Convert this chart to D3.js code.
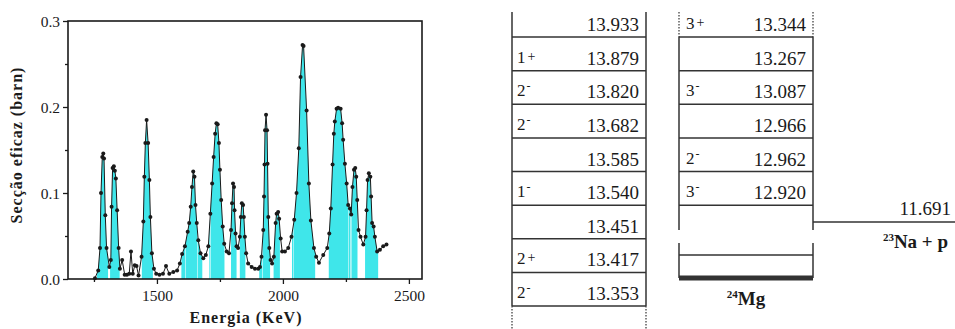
<!DOCTYPE html>
<html>
<head>
<meta charset="utf-8">
<script src="https://cdn.jsdelivr.net/npm/d3@7"></script>
<style>
  body { margin: 0; background: #fff; }
  svg text { font-family: "Liberation Serif", "DejaVu Serif", "Times New Roman", Times, serif; }
</style>
</head>
<body>
<svg id="chart" width="955" height="329"></svg>
<script>
// excitation function
const energy = [1254, 1267, 1274, 1278, 1283, 1287, 1290, 1295, 1300, 1311, 1317, 1320, 1324, 1329, 1333, 1337, 1342, 1348, 1353,
  1362, 1372, 1381, 1390, 1397, 1404, 1412, 1419, 1427, 1439, 1446, 1450, 1454, 1459, 1465, 1470, 1474, 1480, 1488, 1497,
  1510, 1524, 1536, 1549, 1565, 1580, 1591, 1600, 1611, 1622, 1628, 1634, 1639, 1644, 1649, 1653, 1658, 1664, 1673, 1684,
  1694, 1704, 1712, 1719, 1725, 1731, 1736, 1741, 1746, 1750, 1755, 1761, 1767, 1777, 1786, 1794, 1798, 1802, 1806, 1808,
  1812, 1816, 1822, 1829, 1833, 1837, 1842, 1845, 1849, 1854, 1862, 1876, 1889, 1902, 1909, 1915, 1922, 1925, 1927, 1929,
  1933, 1937, 1939, 1942, 1946, 1951, 1957, 1964, 1971, 1975, 1981, 1985, 1991, 1997, 2008, 2021, 2034, 2045, 2054, 2063,
  2070, 2078, 2082, 2094, 2103, 2111, 2123, 2132, 2143, 2160, 2176, 2184, 2190, 2197, 2202, 2206, 2213, 2219, 2229, 2235,
  2239, 2246, 2253, 2259, 2266, 2271, 2276, 2282, 2287, 2291, 2295, 2300, 2308, 2319, 2328, 2332, 2336, 2341, 2347, 2350,
  2354, 2360, 2365, 2374, 2385, 2398, 2411];
const sigma = [0.001, 0.010, 0.036, 0.100, 0.142, 0.146, 0.140, 0.074, 0.036, 0.014, 0.022, 0.084, 0.129, 0.131, 0.126, 0.117, 0.080, 0.036, 0.012,
  0.022, 0.005, 0.005, 0.006, 0.032, 0.006, 0.016, 0.015, 0.004, 0.026, 0.067, 0.119, 0.158, 0.185, 0.158, 0.115, 0.072, 0.030, 0.012, 0.006,
  0.005, 0.006, 0.015, 0.006, 0.008, 0.010, 0.018, 0.029, 0.038, 0.055, 0.065, 0.084, 0.107, 0.125, 0.119, 0.086, 0.065, 0.045, 0.030, 0.024,
  0.028, 0.038, 0.076, 0.111, 0.142, 0.169, 0.181, 0.180, 0.158, 0.127, 0.092, 0.061, 0.041, 0.032, 0.030, 0.057, 0.088, 0.111, 0.107, 0.080,
  0.053, 0.038, 0.036, 0.049, 0.072, 0.088, 0.086, 0.072, 0.049, 0.030, 0.018, 0.014, 0.012, 0.012, 0.014, 0.026, 0.057, 0.096, 0.133, 0.173,
  0.191, 0.173, 0.134, 0.072, 0.036, 0.022, 0.018, 0.026, 0.065, 0.076, 0.078, 0.070, 0.047, 0.032, 0.032, 0.036, 0.049, 0.069, 0.100, 0.152,
  0.235, 0.272, 0.271, 0.196, 0.111, 0.068, 0.036, 0.026, 0.019, 0.028, 0.036, 0.053, 0.082, 0.133, 0.169, 0.183, 0.198, 0.199, 0.198, 0.181,
  0.162, 0.134, 0.111, 0.086, 0.082, 0.075, 0.107, 0.127, 0.129, 0.119, 0.092, 0.057, 0.049, 0.040, 0.049, 0.080, 0.115, 0.123, 0.119, 0.096,
  0.065, 0.061, 0.049, 0.032, 0.034, 0.038, 0.040];

// shaded resonance windows (keV)
const fillStart = [1262, 1314, 1440, 1597, 1614, 1662, 1708, 1714, 1794, 1829, 1906, 1920, 1963, 2036, 2042, 2182, 2262, 2272, 2326];
const fillEnd   = [1306, 1352, 1484, 1612, 1660, 1680, 1712, 1768, 1816, 1851, 1918, 1949, 1988, 2040, 2128, 2260, 2268, 2296, 2378];

const xMajor = [1500, 2000, 2500];
const xMinor = [1250, 1750, 2250];
const yMajor = [0, 0.1, 0.2, 0.3];
const yMinor = [0.05, 0.15, 0.25];

// level scheme of 24Mg
const levelsA = ['13.933', '13.879', '13.820', '13.682', '13.585', '13.540', '13.451', '13.417', '13.353'];
const spinsA  = ['', '1+', '2-', '2-', '', '1-', '', '2+', '2-'];
const levelsB = ['13.344', '13.267', '13.087', '12.966', '12.962', '12.920'];
const spinsB  = ['3+', '', '3-', '', '2-', '3-'];
const threshold = '11.691';

const serif = '"Liberation Serif", "DejaVu Serif", "Times New Roman", Times, serif';
const svg = d3.select('#chart').attr('font-family', serif);
const ink = '#1a1a1a';

// ---------- spectrum panel ----------
const plot = { left: 68, right: 422, top: 21, bottom: 279 };
const x = d3.scaleLinear().domain([1147, 2552]).range([plot.left, plot.right]);
const y = d3.scaleLinear().domain([0, 0.3]).range([plot.bottom, plot.top]);

const pts = energy.map((e, i) => [e, sigma[i]]);
const interp = e => {
  const i = d3.bisector(d => d[0]).left(pts, e);
  if (i <= 0) return pts[0][1];
  if (i >= pts.length) return pts[pts.length - 1][1];
  const a = pts[i - 1], b = pts[i];
  return a[1] + (b[1] - a[1]) * (e - a[0]) / (b[0] - a[0]);
};

const area = d3.area().x(d => x(d[0])).y0(y(0)).y1(d => y(d[1]));
fillStart.forEach((s, k) => {
  const e = fillEnd[k];
  const seg = [[s, interp(s)]].concat(pts.filter(p => p[0] > s && p[0] < e), [[e, interp(e)]]);
  svg.append('path').attr('d', area(seg)).attr('fill', '#3fe6ea');
});

svg.append('path')
  .datum(pts)
  .attr('d', d3.line().x(d => x(d[0])).y(d => y(d[1])))
  .attr('fill', 'none')
  .attr('stroke', ink)
  .attr('stroke-width', 1);

svg.append('g').selectAll('circle')
  .data(pts)
  .enter()
  .append('circle')
  .attr('cx', d => x(d[0]))
  .attr('cy', d => y(d[1]))
  .attr('r', 2)
  .attr('fill', ink);

// frame
svg.append('rect')
  .attr('x', plot.left).attr('y', plot.top)
  .attr('width', plot.right - plot.left).attr('height', plot.bottom - plot.top)
  .attr('fill', 'none').attr('stroke', ink).attr('stroke-width', 1.6);

// axes
const xAxis = svg.append('g').attr('transform', 'translate(0,' + plot.bottom + ')')
  .call(d3.axisBottom(x).tickValues(xMajor).tickSize(5).tickFormat(d3.format('d')));
svg.append('g').attr('transform', 'translate(0,' + plot.bottom + ')')
  .call(d3.axisBottom(x).tickValues(xMinor).tickSize(3).tickFormat(''));
const yAxis = svg.append('g').attr('transform', 'translate(' + plot.left + ',0)')
  .call(d3.axisLeft(y).tickValues(yMajor).tickSize(5).tickFormat(d3.format('.1f')));
svg.append('g').attr('transform', 'translate(' + plot.left + ',0)')
  .call(d3.axisLeft(y).tickValues(yMinor).tickSize(3).tickFormat(''));

// d3 axis puts sans-serif on its groups; undo that
svg.selectAll('g').attr('font-family', serif);
svg.selectAll('.domain').remove();
svg.selectAll('.tick line').attr('stroke', ink).attr('stroke-width', 1.3);
svg.selectAll('.tick text')
  .attr('font-size', 15.5)
  .attr('fill', ink);
xAxis.selectAll('.tick text').attr('dy', null).attr('y', 22);
yAxis.selectAll('.tick text').attr('x', -8).attr('dy', '0.33em');

svg.append('text')
  .attr('x', (plot.left + plot.right) / 2 + 1).attr('y', 323)
  .attr('text-anchor', 'middle')
  .attr('font-weight', 'bold').attr('font-size', 16).attr('letter-spacing', 1)
  .attr('fill', ink)
  .text('Energia (KeV)');

svg.append('text')
  .attr('transform', 'translate(22,145) rotate(-90)')
  .attr('text-anchor', 'middle')
  .attr('font-weight', 'bold').attr('font-size', 16).attr('letter-spacing', 1)
  .attr('fill', ink)
  .text('Secção eficaz (barn)');

// ---------- level scheme ----------
const row = d3.scaleLinear().domain([0, 8]).range([37, 306]);
const colA = { l: 512, r: 646 };
const colB = { l: 679, r: 813 };
const lineCol = '#333';

function vline(xp, y0, y1, dotted) {
  svg.append('line')
    .attr('x1', xp).attr('x2', xp).attr('y1', y0).attr('y2', y1)
    .attr('stroke', lineCol).attr('stroke-width', dotted ? 1.2 : 1.5)
    .attr('stroke-dasharray', dotted ? '1.5,1.5' : null);
}
function hline(c, yp, w) {
  svg.append('line')
    .attr('x1', c.l).attr('x2', c.r).attr('y1', yp).attr('y2', yp)
    .attr('stroke', lineCol).attr('stroke-width', w || 1.5);
}
function spinLabel(xp, yp, s) {
  const t = svg.append('text').attr('x', xp).attr('y', yp).attr('fill', ink).attr('font-size', 17);
  t.append('tspan').text(s[0]);
  t.append('tspan').attr('font-size', s[1] === '+' ? 14 : 12).attr('dy', s[1] === '+' ? -2 : -6)
    .attr('dx', s[1] === '+' ? 2 : 1)
    .text(s[1] === '+' ? '+' : '-');
}
function levelColumn(c, values, spins) {
  values.forEach((v, i) => {
    hline(c, row(i));
    svg.append('text')
      .attr('x', c.r - 7).attr('y', row(i) - 6)
      .attr('text-anchor', 'end').attr('font-size', 19).attr('fill', ink)
      .text(v);
    if (spins[i]) spinLabel(c.l + (c === colA ? 5 : 7), row(i) - 8, spins[i]);
  });
}

// column A
vline(colA.l, 12, row(8));
vline(colA.r, 12, row(8));
vline(colA.l, row(8), 329, true);
vline(colA.r, row(8), 329, true);
levelColumn(colA, levelsA, spinsA);

// column B
vline(colB.l, 12, row(0), true);
vline(colB.r, 12, row(0), true);
vline(colB.l, row(0), 230);
vline(colB.r, row(0), 230);
vline(colB.l, 243, 278);
vline(colB.r, 243, 278);
levelColumn(colB, levelsB, spinsB);
hline(colB, 255);
hline(colB, 278, 5);

const mg = svg.append('text')
  .attr('x', (colB.l + colB.r) / 2).attr('y', 305)
  .attr('text-anchor', 'middle').attr('font-weight', 'bold').attr('fill', ink);
mg.append('tspan').attr('font-size', 11).attr('dy', -7).text('24');
mg.append('tspan').attr('font-size', 19).attr('dy', 7).text('Mg');

// proton threshold
svg.append('line')
  .attr('x1', colB.r).attr('x2', 955).attr('y1', 222).attr('y2', 222)
  .attr('stroke', lineCol).attr('stroke-width', 1.5);
svg.append('text')
  .attr('x', 951).attr('y', 215)
  .attr('text-anchor', 'end').attr('font-size', 19).attr('fill', ink)
  .text(threshold);
const na = svg.append('text')
  .attr('x', 948).attr('y', 248)
  .attr('text-anchor', 'end').attr('font-weight', 'bold').attr('fill', ink);
na.append('tspan').attr('font-size', 11).attr('dy', -7).text('23');
na.append('tspan').attr('font-size', 19).attr('dy', 7).text('Na + p');
</script>
</body>
</html>
